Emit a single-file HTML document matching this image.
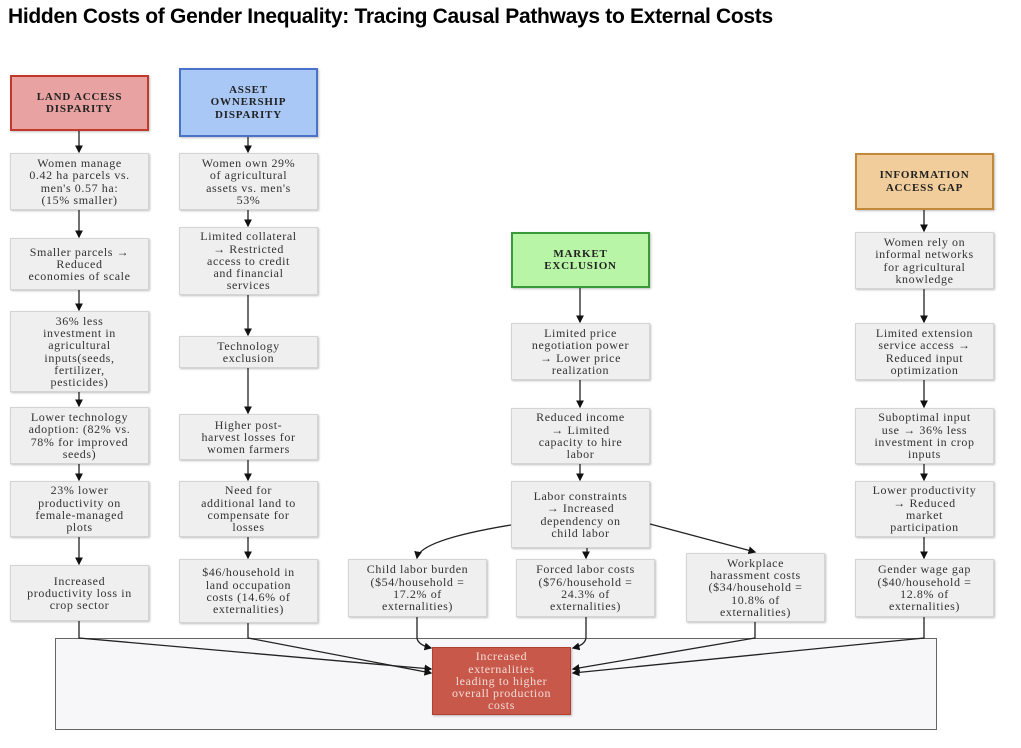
<!DOCTYPE html>
<html><head><meta charset="utf-8"><style>
body{margin:0;width:1021px;height:748px;background:#fff;position:relative;overflow:hidden;font-family:"Liberation Serif",serif}
h1{position:absolute;left:8px;top:5px;margin:0;font:bold 21px "Liberation Sans",sans-serif;color:#000;letter-spacing:-0.3px}
.b{position:absolute;width:139px;box-sizing:border-box;background:#efefef;border:1px solid #d4d4d4;box-shadow:1px 1px 2px rgba(0,0,0,.25);display:flex;align-items:center;justify-content:center;text-align:center;font-size:12px;letter-spacing:0.6px;line-height:12.3px;color:#333;padding:0 2px;white-space:nowrap}
.h{font-weight:bold;font-size:11px;letter-spacing:0.8px;color:#222;border-width:2px;padding:0 3px}
.c{position:absolute;left:55px;top:638px;width:882px;height:92px;box-sizing:border-box;background:#f7f7f9;border:1px solid #666}
</style></head><body>
<h1>Hidden Costs of Gender Inequality: Tracing Causal Pathways to External Costs</h1>
<div class="c"></div>

<div class="b h" style="left:10px;top:75px;height:56px;background:#e8a2a2;border-color:#c0392b">LAND ACCESS<br>DISPARITY</div>
<div class="b" style="left:10px;top:153px;height:57px">Women manage<br>0.42 ha parcels vs.<br>men's 0.57 ha:<br>(15% smaller)</div>
<div class="b" style="left:10px;top:238px;height:52px">Smaller parcels →<br>Reduced<br>economies of scale</div>
<div class="b" style="left:10px;top:311px;height:81px">36% less<br>investment in<br>agricultural<br>inputs(seeds,<br>fertilizer,<br>pesticides)</div>
<div class="b" style="left:10px;top:407px;height:57px">Lower technology<br>adoption: (82% vs.<br>78% for improved<br>seeds)</div>
<div class="b" style="left:10px;top:481px;height:56px">23% lower<br>productivity on<br>female-managed<br>plots</div>
<div class="b" style="left:10px;top:565px;height:56px">Increased<br>productivity loss in<br>crop sector</div>

<div class="b h" style="left:179px;top:68px;height:69px;background:#a9c8f5;border-color:#4a72c8">ASSET<br>OWNERSHIP<br>DISPARITY</div>
<div class="b" style="left:179px;top:153px;height:57px">Women own 29%<br>of agricultural<br>assets vs. men's<br>53%</div>
<div class="b" style="left:179px;top:227px;height:68px">Limited collateral<br>→ Restricted<br>access to credit<br>and financial<br>services</div>
<div class="b" style="left:179px;top:336px;height:32px">Technology<br>exclusion</div>
<div class="b" style="left:179px;top:414px;height:46px">Higher post-<br>harvest losses for<br>women farmers</div>
<div class="b" style="left:179px;top:481px;height:56px">Need for<br>additional land to<br>compensate for<br>losses</div>
<div class="b" style="left:179px;top:559px;height:64px">$46/household in<br>land occupation<br>costs (14.6% of<br>externalities)</div>

<div class="b h" style="left:511px;top:232px;height:56px;background:#b9f5a7;border-color:#3a9a3a">MARKET<br>EXCLUSION</div>
<div class="b" style="left:511px;top:323px;height:57px">Limited price<br>negotiation power<br>→ Lower price<br>realization</div>
<div class="b" style="left:511px;top:408px;height:56px">Reduced income<br>→ Limited<br>capacity to hire<br>labor</div>
<div class="b" style="left:511px;top:481px;height:67px">Labor constraints<br>→ Increased<br>dependency on<br>child labor</div>
<div class="b" style="left:348px;top:559px;height:58px">Child labor burden<br>($54/household =<br>17.2% of<br>externalities)</div>
<div class="b" style="left:516px;top:559px;height:58px">Forced labor costs<br>($76/household =<br>24.3% of<br>externalities)</div>
<div class="b" style="left:686px;top:553px;height:69px">Workplace<br>harassment costs<br>($34/household =<br>10.8% of<br>externalities)</div>

<div class="b h" style="left:855px;top:153px;height:57px;background:#f0cd9a;border-color:#c08a3a">INFORMATION<br>ACCESS GAP</div>
<div class="b" style="left:855px;top:232px;height:57px">Women rely on<br>informal networks<br>for agricultural<br>knowledge</div>
<div class="b" style="left:855px;top:323px;height:57px">Limited extension<br>service access →<br>Reduced input<br>optimization</div>
<div class="b" style="left:855px;top:408px;height:56px">Suboptimal input<br>use → 36% less<br>investment in crop<br>inputs</div>
<div class="b" style="left:855px;top:481px;height:56px">Lower productivity<br>→ Reduced<br>market<br>participation</div>
<div class="b" style="left:855px;top:559px;height:58px">Gender wage gap<br>($40/household =<br>12.8% of<br>externalities)</div>

<div class="b" style="left:432px;top:647px;height:68px;background:#c8584a;border-color:#b04030;color:#f3dcd8">Increased<br>externalities<br>leading to higher<br>overall production<br>costs</div>

<svg style="position:absolute;left:0;top:0" width="1021" height="748">
<defs><marker id="a" markerWidth="6" markerHeight="6" refX="5" refY="3" orient="auto"><path d="M0,0 L6,3 L0,6 z" fill="#111"/></marker></defs>
<g stroke="#222" stroke-width="1.3" fill="none" marker-end="url(#a)">
<path d="M79 131V152"/><path d="M79 210V237"/><path d="M79 290V310"/><path d="M79 392V406"/><path d="M79 464V480"/><path d="M79 537V564"/>
<path d="M248 137V152"/><path d="M248 210V226"/><path d="M248 295V335"/><path d="M248 368V413"/><path d="M248 460V480"/><path d="M248 537V558"/>
<path d="M580 288V322"/><path d="M580 380V407"/><path d="M580 464V480"/>
<path d="M511 525 Q420 540 417 558"/><path d="M587 548 V552 Q586 556 586 558"/><path d="M650 524 L755 552"/>
<path d="M924 210V231"/><path d="M924 289V322"/><path d="M924 380V407"/><path d="M924 464V480"/><path d="M924 537V558"/>
<path d="M79 621V638 L431 669"/><path d="M248 623V638 L431 673"/>
<path d="M417 617V638 Q418 645 431 648"/><path d="M586 617V638 Q585 645 573 648"/>
<path d="M755 622V638 L573 669"/><path d="M924 617V638 L573 673"/>
</g></svg>
</body></html>
